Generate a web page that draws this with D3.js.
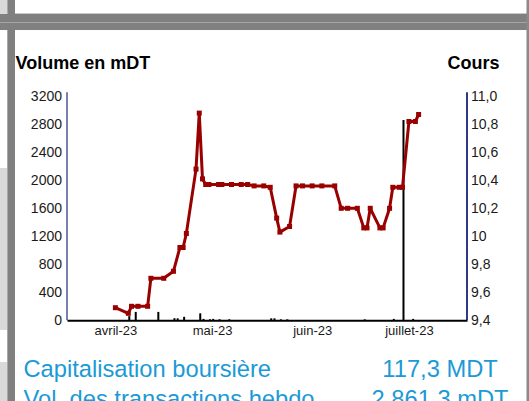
<!DOCTYPE html>
<html>
<head>
<meta charset="utf-8">
<script src="https://cdn.jsdelivr.net/npm/d3@7"></script>
<style>
  body { margin: 0; background: #fff; }
  svg { display: block; font-family: "Liberation Sans", Arial, sans-serif; }
</style>
</head>
<body>
<svg id="chart" width="529" height="401"></svg>
<script>
// cours (prix) par date
const priceDates = ["2023-04-01","2023-04-05","2023-04-06","2023-04-08","2023-04-11","2023-04-12",
  "2023-04-16","2023-04-19","2023-04-21","2023-04-22","2023-04-23","2023-04-26","2023-04-27",
  "2023-04-28","2023-04-29","2023-04-30","2023-05-03","2023-05-04","2023-05-07","2023-05-10",
  "2023-05-12","2023-05-14","2023-05-17","2023-05-19","2023-05-21","2023-05-22","2023-05-25",
  "2023-05-27","2023-05-29","2023-06-01","2023-06-04","2023-06-08","2023-06-10","2023-06-12",
  "2023-06-15","2023-06-17","2023-06-18","2023-06-19","2023-06-22","2023-06-23","2023-06-25",
  "2023-06-26","2023-06-28","2023-06-29","2023-07-01","2023-07-03","2023-07-04"];
const prices = [9.49,9.45,9.50,9.50,9.50,9.70,
  9.70,9.75,9.92,9.92,10.02,10.48,10.88,
  10.41,10.37,10.37,10.37,10.37,10.37,10.37,
  10.37,10.36,10.36,10.35,10.13,10.03,10.07,
  10.36,10.36,10.36,10.36,10.36,10.20,10.20,
  10.20,10.06,10.06,10.20,10.06,10.06,10.20,
  10.35,10.35,10.35,10.82,10.82,10.87];

// volumes en mDT
const volDates = ["2023-04-05","2023-04-07","2023-04-14","2023-04-19","2023-04-20","2023-04-22",
  "2023-04-27","2023-04-28","2023-04-30","2023-05-01","2023-05-03","2023-05-06","2023-05-19",
  "2023-05-20","2023-05-22","2023-05-24","2023-06-17","2023-06-26","2023-06-29","2023-07-02"];
const volumes = [60,120,120,30,28,50,
  100,20,15,20,15,15,28,
  28,14,14,14,20,2861.3,20];

const volTicks = [0,400,800,1200,1600,2000,2400,2800,3200];
const priceTicks = [9.4,9.6,9.8,10,10.2,10.4,10.6,10.8,11.0];
const priceTickLabels = ["9,4","9,6","9,8","10","10,2","10,4","10,6","10,8","11,0"];
const monthTicks = ["2023-04-01","2023-05-01","2023-06-01","2023-07-01"];
const monthLabels = ["avril-23","mai-23","juin-23","juillet-23"];

const infoLabels = ["Capitalisation boursière","Vol. des transactions hebdo"];
const infoValues = ["117,3 MDT","2 861,3 mDT"];

const parse = d3.utcParse("%Y-%m-%d");
const svg = d3.select("#chart");

// cadre gris de la page
const frame = svg.append("g");
frame.append("rect").attr("x",0).attr("y",0).attr("width",8).attr("height",14).attr("fill","#d9d9d9");
frame.append("rect").attr("x",0).attr("y",168).attr("width",8).attr("height",162).attr("fill","#d9d9d9");
frame.append("rect").attr("x",0).attr("y",362).attr("width",8).attr("height",39).attr("fill","#d9d9d9");
frame.append("rect").attr("x",15).attr("y",13).attr("width",512).attr("height",1).attr("fill","#c8c8c8");
frame.append("rect").attr("x",7).attr("y",0).attr("width",1).attr("height",401).attr("fill","#a8a8a8");
frame.append("rect").attr("x",8).attr("y",0).attr("width",7).attr("height",401).attr("fill","#808080");
frame.append("rect").attr("x",0).attr("y",14).attr("width",529).attr("height",16).attr("fill","#808080");
frame.append("rect").attr("x",0).attr("y",22).attr("width",529).attr("height",1).attr("fill","#a4a4a4");
frame.append("rect").attr("x",526.5).attr("y",0).attr("width",2.5).attr("height",401).attr("fill","#8a8a8a");

const plotLeft = 67, plotRight = 467, plotTop = 96.3, plotBottom = 320.3;

const x = d3.scaleUtc()
  .domain([parse("2023-03-17"), parse("2023-07-19")])
  .range([plotLeft, plotRight]);
const yVol = d3.scaleLinear().domain([0, 3200]).range([plotBottom, plotTop]);
const yPrice = d3.scaleLinear().domain([9.4, 11.0]).range([plotBottom, plotTop]);

const volData = volDates.map((d, i) => ({date: parse(d), value: volumes[i]}));
const priceData = priceDates.map((d, i) => ({date: parse(d), value: prices[i]}));

// barres de volume
svg.append("g")
  .selectAll("rect")
  .data(volData)
  .enter().append("rect")
    .attr("x", d => x(d.date))
    .attr("y", d => yVol(d.value))
    .attr("width", 2)
    .attr("height", d => yVol(0) - yVol(d.value))
    .attr("fill", "#000");

// axe gauche
const axL = svg.append("g")
  .attr("transform", "translate(" + plotLeft + ",0)")
  .call(d3.axisLeft(yVol).tickValues(volTicks).tickSize(0).tickPadding(5).tickFormat(d3.format("d")));
axL.select(".domain").remove();
axL.selectAll("text").attr("font-size", 14).attr("font-family", "Liberation Sans, Arial, sans-serif").attr("fill", "#1a1a1a");
svg.append("line")
  .attr("x1", plotLeft).attr("x2", plotLeft).attr("y1", plotTop - 4).attr("y2", plotBottom)
  .attr("stroke", "#2e3a86").attr("stroke-width", 1.3);

// axe droit
const axR = svg.append("g")
  .attr("transform", "translate(" + plotRight + ",0)")
  .call(d3.axisRight(yPrice).tickValues(priceTicks).tickSize(0).tickPadding(4)
    .tickFormat((d, i) => priceTickLabels[i]));
axR.select(".domain").remove();
axR.selectAll("text").attr("font-size", 14).attr("font-family", "Liberation Sans, Arial, sans-serif").attr("fill", "#1a1a1a");
svg.append("line")
  .attr("x1", plotRight).attr("x2", plotRight).attr("y1", plotTop - 4).attr("y2", plotBottom)
  .attr("stroke", "#2e3a86").attr("stroke-width", 2);

// axe du bas
const axB = svg.append("g")
  .attr("transform", "translate(0," + plotBottom + ")")
  .call(d3.axisBottom(x).tickValues(monthTicks.map(parse)).tickSize(0).tickPadding(5)
    .tickSizeOuter(0).tickFormat((d, i) => monthLabels[i]));
axB.select(".domain").attr("stroke", "#000").attr("stroke-width", 2);
axB.selectAll("text").attr("font-size", 13).attr("font-family", "Liberation Sans, Arial, sans-serif").attr("fill", "#1a1a1a");

// courbe du cours
const line = d3.line()
  .x(d => x(d.date))
  .y(d => yPrice(d.value));
svg.append("path")
  .datum(priceData)
  .attr("d", line)
  .attr("fill", "none")
  .attr("stroke", "#990000")
  .attr("stroke-width", 3)
  .attr("stroke-linejoin", "round");
svg.append("g")
  .selectAll("rect")
  .data(priceData)
  .enter().append("rect")
    .attr("x", d => x(d.date) - 2.5)
    .attr("y", d => yPrice(d.value) - 2.5)
    .attr("width", 5)
    .attr("height", 5)
    .attr("fill", "#990000");

// titres
svg.append("text").attr("x", 15.5).attr("y", 69)
  .attr("font-size", 18).attr("font-weight", "bold").attr("fill", "#000")
  .text("Volume en mDT");
svg.append("text").attr("x", 499.5).attr("y", 69).attr("text-anchor", "end")
  .attr("font-size", 18).attr("font-weight", "bold").attr("fill", "#000")
  .text("Cours");

// infos
infoLabels.forEach((t, i) => {
  svg.append("text").attr("x", 23.5).attr("y", 377 + i * 30)
    .attr("font-size", 23.7).attr("fill", "#1b9ad6").text(t);
  svg.append("text").attr("x", 440).attr("y", 377 + i * 30).attr("text-anchor", "middle")
    .attr("font-size", 23.7).attr("fill", "#1b9ad6").text(infoValues[i]);
});
</script>
</body>
</html>
